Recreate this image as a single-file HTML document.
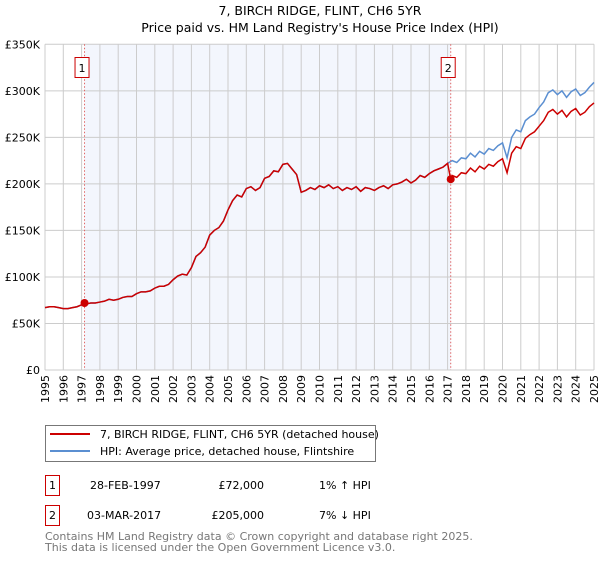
<!DOCTYPE html>
<html><head><meta charset="utf-8"><style>
body{margin:0;background:#fff;font-family:"DejaVu Sans","Liberation Sans",sans-serif;}
svg text{font-family:"DejaVu Sans","Liberation Sans",sans-serif;}
</style></head><body>
<svg width="600" height="560" xmlns="http://www.w3.org/2000/svg">
<text x="320" y="15" text-anchor="middle" font-size="12.5">7, BIRCH RIDGE, FLINT, CH6 5YR</text>
<text x="320" y="32" text-anchor="middle" font-size="12.5">Price paid vs. HM Land Registry's House Price Index (HPI)</text>
<g id="plot"></g>
<g>
<rect x="45.5" y="425.5" width="330" height="36" fill="#fff" stroke="#777"/>
<line x1="50" y1="434" x2="90" y2="434" stroke="#cc0000" stroke-width="2"/>
<text x="100" y="438" font-size="11">7, BIRCH RIDGE, FLINT, CH6 5YR (detached house)</text>
<line x1="50" y1="451" x2="90" y2="451" stroke="#5b8fd1" stroke-width="2"/>
<text x="100" y="455" font-size="11">HPI: Average price, detached house, Flintshire</text>
</g>
<g font-size="11">
<rect x="45.5" y="475.5" width="14" height="20" fill="#fff" stroke="#cc0000"/>
<text x="52.5" y="489" text-anchor="middle">1</text>
<text x="90" y="489">28-FEB-1997</text>
<text x="264" y="489" text-anchor="end">£72,000</text>
<text x="319" y="489">1% ↑ HPI</text>
<rect x="45.5" y="505.5" width="14" height="20" fill="#fff" stroke="#cc0000"/>
<text x="52.5" y="519" text-anchor="middle">2</text>
<text x="87" y="519">03-MAR-2017</text>
<text x="264" y="519" text-anchor="end">£205,000</text>
<text x="319" y="519">7% ↓ HPI</text>
</g>
<text x="45" y="540" font-size="11" fill="#777">Contains HM Land Registry data © Crown copyright and database right 2025.</text>
<text x="45" y="551" font-size="11" fill="#777">This data is licensed under the Open Government Licence v3.0.</text>
</svg>
<script>
const yTicks=[0,50,100,150,200,250,300,350];
const yTickLabels=["£0","£50K","£100K","£150K","£200K","£250K","£300K","£350K"];
const xYears=[1995,1996,1997,1998,1999,2000,2001,2002,2003,2004,2005,2006,2007,2008,2009,2010,2011,2012,2013,2014,2015,2016,2017,2018,2019,2020,2021,2022,2023,2024,2025];
const hpiValues=[67,68,68,67,66,66,67,68,70,71,72,72,73,74,76,75,76,78,79,79,82,84,84,85,88,90,90,92,97,101,103,102,110,122,126,132,145,150,153,160,172,182,188,186,195,197,193,196,206,208,214,213,221,222,216,210,191,193,196,194,198,196,199,195,197,193,196,194,197,192,196,195,193,196,198,195,199,200,202,205,201,204,209,207,211,214,216,218,222,225,223,228,227,233,229,235,232,238,236,241,244,228,250,258,256,268,272,275,282,288,298,301,296,300,293,299,302,295,298,304,309];
const priceValues=[67,68,68,67,66,66,67,68,70,71,72,72,73,74,76,75,76,78,79,79,82,84,84,85,88,90,90,92,97,101,103,102,110,122,126,132,145,150,153,160,172,182,188,186,195,197,193,196,206,208,214,213,221,222,216,210,191,193,196,194,198,196,199,195,197,193,196,194,197,192,196,195,193,196,198,195,199,200,202,205,201,204,209,207,211,214,216,218,222,205,209,207,212,211,217,213,219,216,221,219,224,227,212,233,240,238,249,253,256,262,268,277,280,275,279,272,278,281,274,277,283,287];
const sales=[{year:1997.16,value:72,label:"1"},{year:2017.17,value:205,label:"2"}];
const X0=45,X1=594,Y0=370,Y1=44.3;
const xs=y=>X0+(y-1995)/30*(X1-X0);
const ys=v=>Y0-v/350*(Y0-Y1);
const NS="http://www.w3.org/2000/svg";
const g=document.getElementById('plot');
function mk(t,a){const e=document.createElementNS(NS,t);for(const k in a)e.setAttribute(k,a[k]);g.appendChild(e);return e;}
const sh=mk('rect',{x:xs(sales[0].year),y:Y1,width:xs(sales[1].year)-xs(sales[0].year),height:Y0-Y1,fill:'#f3f6fd'});


xYears.forEach(y=>{const l=mk('line',{x1:xs(y),x2:xs(y),y1:Y1,y2:Y0,stroke:'#ccc'});


const t=mk('text',{x:0,y:0,'font-size':11,'text-anchor':'end',transform:`translate(${xs(y)+4},${Y0+5}) rotate(-90)`});t.textContent=y;

});
yTicks.forEach((v,i)=>{const l=mk('line',{x1:X0,x2:X1,y1:ys(v),y2:ys(v),stroke:'#ccc'});


const t=mk('text',{x:40,y:ys(v)+4,'font-size':11,'text-anchor':'end'});t.textContent=yTickLabels[i];

});
const hYears=hpiValues.map((_,i)=>1995+i*0.25);
const pYears=[];for(let i=0;i<=88;i++)pYears.push(1995+i*0.25);pYears.push(2017.17);for(let i=89;i<=120;i++)pYears.push(1995+i*0.25);
const hp=mk('polyline',{points:hYears.map((y,i)=>xs(y)+','+ys(hpiValues[i])).join(' '),fill:'none',stroke:'#5b8fd1','stroke-width':1.5});


const pp=mk('polyline',{points:pYears.map((y,i)=>xs(y)+','+ys(priceValues[i])).join(' '),fill:'none',stroke:'#cc0000','stroke-width':1.5});


sales.forEach(s=>{const l=mk('line',{x1:xs(s.year),x2:xs(s.year),y1:Y1,y2:Y0,stroke:'#e06666','stroke-dasharray':'1.5,2'});


const c=mk('circle',{cx:xs(s.year),cy:ys(s.value),r:4,fill:'#cc0000'});


const b=mk('rect',{x:xs(s.year)-9.5,y:57.5,width:14,height:20,fill:'#fff',stroke:'#cc0000'});


const t=mk('text',{x:xs(s.year)-2.5,y:72,'font-size':11,'text-anchor':'middle'});t.textContent=s.label;

});
</script>
</body></html>
